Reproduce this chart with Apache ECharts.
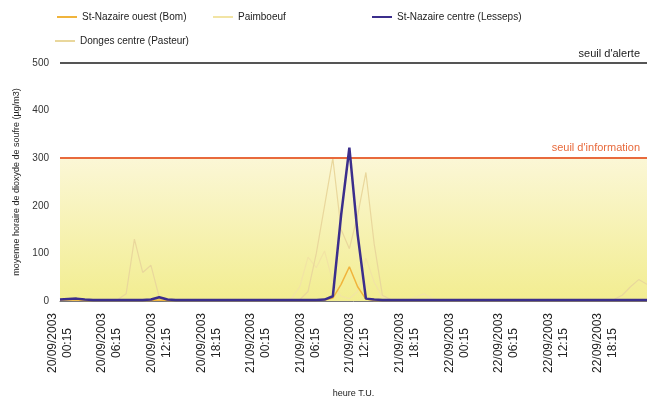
<!DOCTYPE html>
<html>
<head>
<meta charset="utf-8">
<script src="https://cdn.jsdelivr.net/npm/echarts@6/dist/echarts.min.js"></script>
<style>
  html, body { margin: 0; padding: 0; background: #fff; }
  #chart { width: 647px; height: 400px; }
</style>
</head>
<body>
<div id="chart"></div>
<script>
// heures (T.U.) du 20/09/2003 00:15 au 22/09/2003 23:15
var days = ['20/09/2003', '21/09/2003', '22/09/2003']
var hours = []
days.forEach(function (d) {
  for (var h = 0; h < 24; h++) {
    hours.push(d + '|' + (h < 10 ? '0' + h : h) + ':15')
  }
})

var yTicks = [0, 100, 200, 300, 400, 500]

// St-Nazaire ouest (Bom)
var stNazaireOuest = [
  2, 2, 2, 1, 1, 1, 1, 1, 1, 1, 1, 1, 2, 1, 1, 1, 1, 1, 1, 1, 1, 1, 1, 1,
  1, 1, 1, 1, 1, 1, 1, 1, 2, 6, 35, 72, 30, 4, 1, 1, 1, 1, 1, 1, 1, 1, 1, 1,
  1, 1, 1, 1, 1, 1, 1, 1, 1, 1, 1, 1, 1, 1, 1, 1, 1, 1, 1, 1, 1, 1, 1, 1
]
// Paimboeuf
var paimboeuf = [
  1, 1, 1, 1, 1, 1, 1, 1, 1, 1, 1, 1, 1, 1, 1, 1, 1, 1, 1, 1, 1, 1, 1, 1,
  1, 1, 1, 1, 5, 30, 92, 70, 105, 40, 10, 5, 20, 90, 40, 8, 2, 1, 2, 8, 15, 5, 1, 1,
  1, 1, 1, 1, 1, 1, 1, 1, 1, 1, 1, 1, 1, 1, 1, 1, 1, 1, 1, 1, 1, 1, 1, 1
]
// St-Nazaire centre (Lesseps)
var stNazaireCentre = [
  3, 4, 5, 3, 2, 2, 2, 2, 2, 2, 2, 3, 8, 3, 2, 2, 2, 2, 2, 2, 2, 2, 2, 2,
  2, 2, 2, 2, 2, 2, 2, 2, 3, 10, 180, 322, 140, 5, 3, 2, 2, 2, 2, 2, 2, 2, 2, 2,
  2, 2, 2, 2, 2, 2, 2, 2, 2, 2, 2, 2, 2, 2, 2, 2, 2, 2, 2, 2, 2, 2, 2, 2
]
// Donges centre (Pasteur)
var donges = [
  2, 2, 2, 2, 2, 2, 2, 3, 15, 130, 60, 75, 8, 3, 2, 2, 2, 2, 2, 2, 2, 2, 2, 2,
  2, 2, 2, 2, 2, 3, 20, 100, 200, 300, 150, 110, 180, 270, 120, 12, 3, 2, 2, 2, 2, 2, 2, 2,
  2, 2, 2, 2, 2, 2, 2, 2, 2, 2, 2, 2, 2, 2, 2, 2, 2, 2, 2, 3, 12, 30, 45, 35
]

var seuilInfo = 300
var seuilAlerte = 500

var names = ['St-Nazaire ouest (Bom)', 'Paimboeuf', 'St-Nazaire centre (Lesseps)', 'Donges centre (Pasteur)']
var colors = ['#f0b43c', '#f2e4a4', '#3b2e8c', '#e9d79c']

var myChart = echarts.init(document.getElementById('chart'))

function legendAt(name, left, top) {
  return {
    data: [name],
    left: left,
    top: top,
    itemWidth: 20,
    itemHeight: 10,
    itemGap: 2,
    icon: 'path://M0,4h20v2h-20z',
    textStyle: { fontFamily: 'Liberation Sans', fontSize: 10, color: '#222' }
  }
}

myChart.setOption({
  animation: false,
  color: colors,
  textStyle: { fontFamily: 'Liberation Sans' },
  legend: [
    legendAt(names[0], 52, 7),
    legendAt(names[1], 208, 7),
    legendAt(names[2], 367, 7),
    legendAt(names[3], 50, 31)
  ],
  grid: { left: 60, right: 0, top: 63, bottom: 99, containLabel: false, outerBoundsMode: 'none' },
  xAxis: {
    type: 'category',
    data: hours,
    boundaryGap: false,
    name: 'heure T.U.',
    nameLocation: 'middle',
    nameGap: 88,
    nameTextStyle: { fontSize: 9, color: '#222' },
    axisLine: { lineStyle: { color: '#777', width: 1 } },
    axisTick: { show: false },
    axisLabel: {
      interval: 5,
      rotate: 90,
      margin: 11,
      formatter: function (v) {
        var p = v.split('|')
        return '{d|' + p[0] + '}\n{t|' + p[1] + '}'
      },
      rich: {
        d: { fontSize: 12, color: '#222', width: 62, align: 'center', lineHeight: 15 },
        t: { fontSize: 12, color: '#222', width: 62, align: 'center', lineHeight: 15 }
      }
    }
  },
  yAxis: {
    type: 'value',
    min: 0,
    max: 500,
    interval: 100,
    name: 'moyenne horaire de dioxyde de soufre (µg/m3)',
    nameLocation: 'middle',
    nameGap: 36,
    nameTextStyle: { fontSize: 9, color: '#222' },
    axisLine: { show: false },
    axisTick: { show: false },
    splitLine: { show: false },
    axisLabel: { fontSize: 10, color: '#333', margin: 11 }
  },
  series: [
    {
      name: names[0],
      type: 'line',
      data: stNazaireOuest,
      showSymbol: false,
      lineStyle: { width: 1.5, color: colors[0] },
      z: 4,
      markArea: {
        silent: true,
        itemStyle: {
          color: {
            type: 'linear', x: 0, y: 0, x2: 0, y2: 1,
            colorStops: [
              { offset: 0, color: '#fbf7d6' },
              { offset: 1, color: '#f2ed90' }
            ]
          }
        },
        data: [[{ yAxis: 0 }, { yAxis: seuilInfo }]]
      },
      markLine: {
        silent: true,
        symbol: 'none',
        data: [
          {
            yAxis: seuilInfo,
            lineStyle: { color: '#e86a3c', width: 2, type: 'solid' },
            label: { formatter: "seuil d'information", position: 'insideEndTop', color: '#e86a3c', fontSize: 11, distance: [7, 5] }
          },
          {
            yAxis: seuilAlerte,
            lineStyle: { color: '#555', width: 2, type: 'solid' },
            label: { formatter: "seuil d'alerte", position: 'insideEndTop', color: '#222', fontSize: 11, distance: [7, 4] }
          }
        ]
      }
    },
    {
      name: names[1],
      type: 'line',
      data: paimboeuf,
      showSymbol: false,
      lineStyle: { width: 1.2, color: colors[1] },
      z: 2
    },
    {
      name: names[2],
      type: 'line',
      data: stNazaireCentre,
      showSymbol: false,
      lineStyle: { width: 2.5, color: colors[2] },
      z: 5
    },
    {
      name: names[3],
      type: 'line',
      data: donges,
      showSymbol: false,
      lineStyle: { width: 1.2, color: colors[3] },
      z: 3
    }
  ]
})
</script>
</body>
</html>
